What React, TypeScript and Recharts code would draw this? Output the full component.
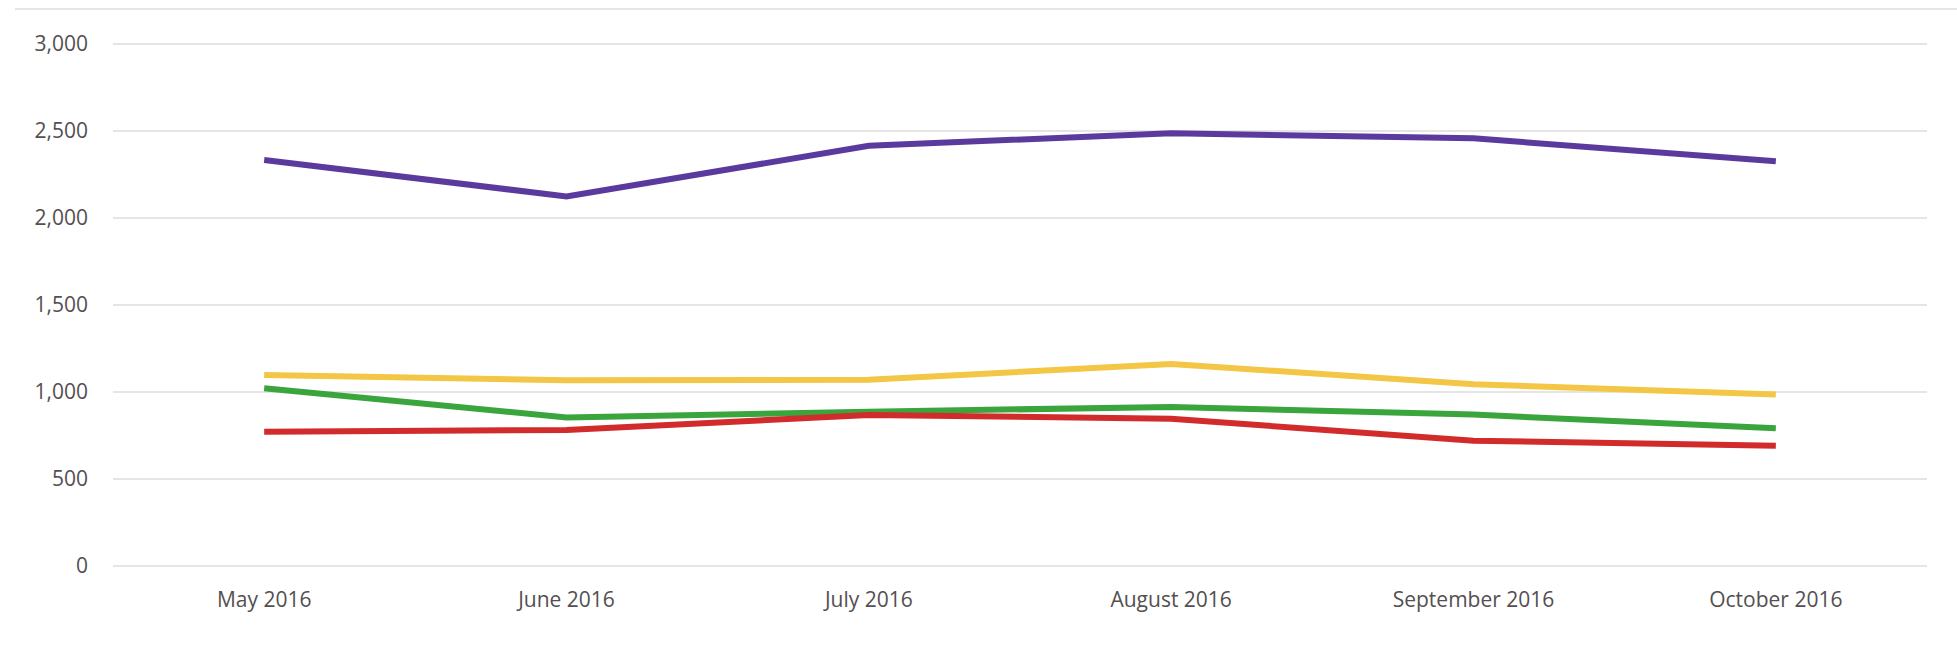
import React from "react";
import { LineChart, Line, XAxis, YAxis, CartesianGrid } from "recharts";

const months = ["May 2016", "June 2016", "July 2016", "August 2016", "September 2016", "October 2016"];
const purpleSeries = [2333, 2124, 2415, 2487, 2458, 2326];
const yellowSeries = [1097, 1068, 1070, 1161, 1045, 986];
const greenSeries = [1021, 854, 887, 914, 870, 792];
const redSeries = [772, 782, 868, 846, 720, 691];
const yTicks = [0, 500, 1000, 1500, 2000, 2500, 3000];

const data = months.map((m, i) => ({
  month: m,
  purple: purpleSeries[i],
  yellow: yellowSeries[i],
  green: greenSeries[i],
  red: redSeries[i],
}));

const fmt = (v: number) => v.toLocaleString("en-US");

export default function App() {
  const tickStyle = { fontFamily: "'Open Sans', sans-serif", fontSize: 21, fill: "#544f50" };
  return (
    <div style={{ position: "absolute", left: 0, top: 0, width: 1957, height: 657, background: "#fff" }}>
      <div style={{ position: "absolute", left: 15, top: 8, width: 1942, height: 2, background: "#e8e5e3" }} />
      <LineChart
        width={1957}
        height={657}
        data={data}
        margin={{ top: 44, right: 30, left: 13, bottom: 31 }}
      >
        <CartesianGrid vertical={false} stroke="#e6e4e4" strokeWidth={2} />
        <XAxis
          dataKey="month"
          scale="band"
          axisLine={false}
          tickLine={false}
          tick={tickStyle}
          tickMargin={20}
          height={60}
          interval={0}
        />
        <YAxis
          domain={[0, 3000]}
          ticks={yTicks}
          tickFormatter={fmt}
          axisLine={false}
          tickLine={false}
          tick={tickStyle}
          tickMargin={19}
          width={100}
        />
        <Line type="linear" dataKey="purple" stroke="#5a3b9d" strokeWidth={6} dot={false} isAnimationActive={false} />
        <Line type="linear" dataKey="yellow" stroke="#f3c646" strokeWidth={6} dot={false} isAnimationActive={false} />
        <Line type="linear" dataKey="green" stroke="#3aa53c" strokeWidth={6} dot={false} isAnimationActive={false} />
        <Line type="linear" dataKey="red" stroke="#d22b2b" strokeWidth={6} dot={false} isAnimationActive={false} />
      </LineChart>
    </div>
  );
}
